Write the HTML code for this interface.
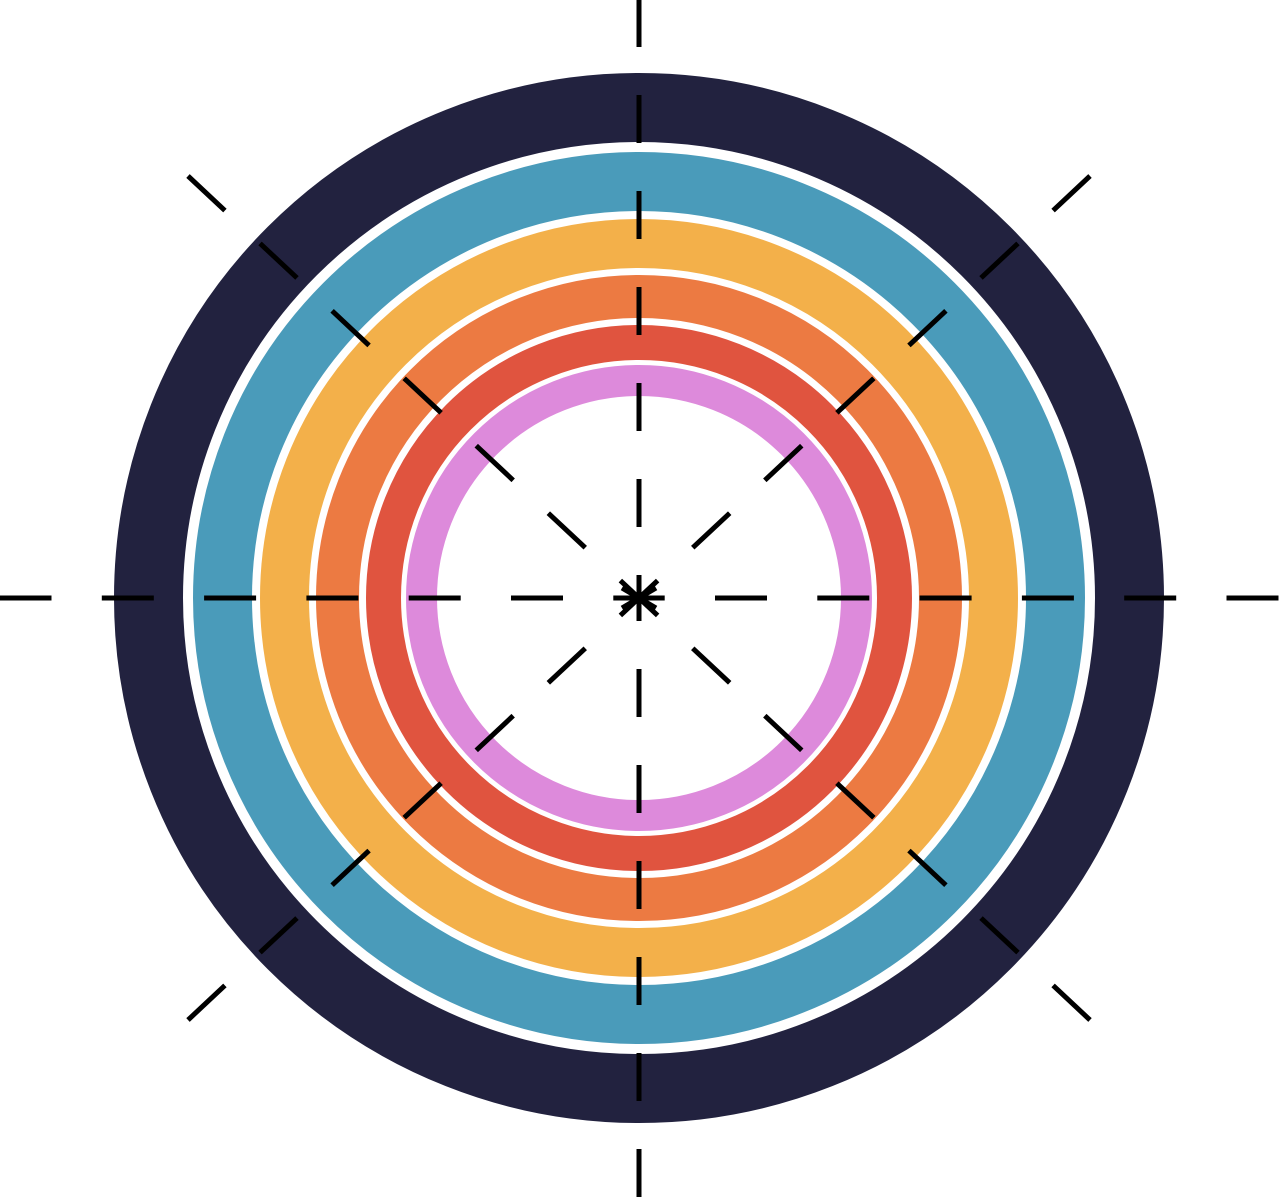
<!DOCTYPE html>
<html><head><style>html,body{margin:0;padding:0;background:#fff}svg{display:block}</style></head>
<body>
<svg width="1280" height="1197" viewBox="0 0 1280 1197" xmlns="http://www.w3.org/2000/svg">
<rect width="1280" height="1197" fill="#fff"/>
<g fill="none">
<circle cx="639" cy="598" r="490.5" stroke="#22223f" stroke-width="69"/>
<circle cx="639" cy="598" r="416.5" stroke="#4a9bba" stroke-width="59"/>
<circle cx="639" cy="598" r="354.5" stroke="#f3b04a" stroke-width="49"/>
<circle cx="639" cy="598" r="301.5" stroke="#ec7a42" stroke-width="43"/>
<circle cx="639" cy="598" r="255.5" stroke="#e0543f" stroke-width="35"/>
<circle cx="639" cy="598" r="217.5" stroke="#dd8adb" stroke-width="31"/>
</g>
<g stroke="#000" stroke-width="5" stroke-dasharray="52 50.3" stroke-dashoffset="26.3">
<line x1="639" y1="598" x2="1280" y2="598"/>
<line x1="639" y1="598" x2="0" y2="598"/>
</g>
<g stroke="#000" stroke-width="5" stroke-dasharray="48 48" stroke-dashoffset="25">
<line x1="639" y1="598" x2="639" y2="0"/>
<line x1="639" y1="598" x2="639" y2="1197"/>
</g>
<g stroke="#000" stroke-width="5" stroke-dasharray="50.6 48.1" stroke-dashoffset="25.1">
<line x1="639" y1="598" x2="188" y2="176"/>
<line x1="639" y1="598" x2="1090" y2="176"/>
<line x1="639" y1="598" x2="188" y2="1020"/>
<line x1="639" y1="598" x2="1090" y2="1020"/>
</g>
<g stroke="#000" stroke-width="5">
<line x1="639" y1="578" x2="639" y2="618"/>
<line x1="622" y1="588" x2="656" y2="608"/>
<line x1="622" y1="608" x2="656" y2="588"/>
</g>
</svg>
</body></html>
